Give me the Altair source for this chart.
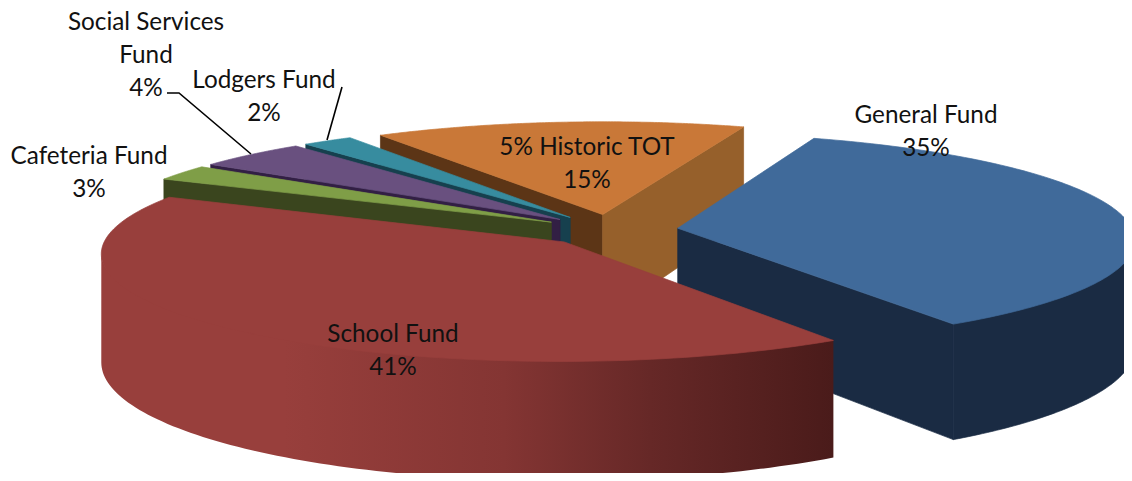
import numpy as np
import pandas as pd
import altair as alt

# --- chart values -------------------------------------------------------
names = ["General Fund", "School Fund", "Cafeteria Fund",
         "Social Services Fund", "Lodgers Fund", "5% Historic TOT"]
# shares; the printed labels round them
shares = [35.3, 41.3, 2.4, 4.4, 2.0, 14.6]
tops = ["#406A9A", "#983F3C", "#7F9E47", "#69507F", "#378C9F", "#C97838"]
darks = ["#1A2B43", "#4F1C1B", "#3A451E", "#321F44", "#16404E", "#5C3516"]
end_faces = ["#1A2B43", "#4F1C1B", "#3A451E", "#321F44", "#16404E", "#96602B"]
draw_order = [5, 4, 3, 2, 0, 1]

label_lines = ["Social Services", "Fund", "4%", "Lodgers Fund", "2%",
               "Cafeteria Fund", "3%", "5% Historic TOT", "15%",
               "General Fund", "35%", "School Fund", "41%"]
label_x = [146, 146, 146, 264, 264, 89, 89, 587, 587, 926, 926, 393, 393]
label_y = [23, 55.5, 88.5, 80.5, 113.5, 156.5, 189.5, 147.5, 180.5, 115.5, 148.5, 334.5, 367.5]

leader_group = [0, 0, 0, 1, 1]
leader_x = [167, 179, 251, 342, 327]
leader_y = [93, 93, 154, 87, 140]

# --- view of the 3-D pie -------------------------------------------------
CX, CY, A, B, K, H0, EXPLODE, START = 610, 230, 455, 105, 0.1, 106, 0.15, 20.0


def project(wx, wy, drop=0.0):
    s = 1.0 / (1.0 - K * wy)
    return CX + A * wx * s, CY + B * wy * s + H0 * s * drop


def rim(t0, t1, ox, oy, drop=0.0):
    ts = np.radians(np.linspace(t0, t1, 120))
    return project(ox + np.sin(ts), oy - np.cos(ts), drop)


def poly(xs, ys):
    xs, ys = np.r_[xs, xs[0]], np.r_[ys, ys[0]]
    return pd.DataFrame({"x": xs, "y": ys, "i": np.arange(len(xs))})


x_enc = alt.X("x:Q", scale=alt.Scale(domain=[8, 1124], nice=False, zero=False), axis=None)
y_enc = alt.Y("y:Q", scale=alt.Scale(domain=[473, 8], nice=False, zero=False), axis=None)


def piece(df, fill):
    edge = fill if isinstance(fill, str) else "#7A3230"
    width = 0.7 if isinstance(fill, str) else 0
    return alt.Chart(df).mark_line(fill=fill, stroke=edge, strokeWidth=width,
                                   interpolate="linear", clip=True).encode(
        x=x_enc, y=y_enc, order=alt.Order("i:Q"))


red_side = {
    "gradient": "linear", "x1": 0, "x2": 1, "y1": 0, "y2": 0,
    "stops": [
        {"offset": 0.0, "color": "#983F3C"},
        {"offset": 0.25, "color": "#983F3C"},
        {"offset": 0.55, "color": "#843533"},
        {"offset": 0.75, "color": "#662827"},
        {"offset": 1.0, "color": "#4A1B1A"},
    ],
}

edges = np.cumsum([0] + shares) * 3.6 + START
layers = []
for n in draw_order:
    t0, t1 = edges[n], edges[n + 1]
    mid = np.radians((t0 + t1) / 2)
    ox, oy = EXPLODE * np.sin(mid), -EXPLODE * np.cos(mid)

    # radial faces that turn towards the viewer
    for t, visible, colour in ((t0, np.sin(np.radians(t0)) < 0, darks[n]),
                               (t1, np.sin(np.radians(t1)) > 0, end_faces[n])):
        if visible:
            r = np.radians(t)
            ex, ey = ox + np.sin(r), oy - np.cos(r)
            p = [project(ox, oy), project(ex, ey), project(ex, ey, 1.0), project(ox, oy, 1.0)]
            layers.append(piece(poly(np.array([q[0] for q in p]), np.array([q[1] for q in p])), colour))

    # outer wall: only between the rim's left and right silhouette points;
    # its upper edge tucks one pixel under the top face so no seam shows
    a0, a1 = max(t0, 60.0), min(t1, 290.0)
    if a1 > a0:
        tx, ty = rim(a0, a1, ox, oy, -0.01)
        bx, by = rim(a0, a1, ox, oy, 1.0)
        lo = int(np.argmax(tx))
        hi = int(np.argmin(tx)) + 1
        if hi - lo > 1:
            tx, ty, bx, by = tx[lo:hi], ty[lo:hi], bx[lo:hi], by[lo:hi]
            fill = red_side if n == 1 else darks[n]
            layers.append(piece(poly(np.r_[tx, bx[::-1]], np.r_[ty, by[::-1]]), fill))

    # top face
    tx, ty = rim(t0, t1, ox, oy)
    ax, ay = project(ox, oy)
    layers.append(piece(poly(np.r_[ax, tx], np.r_[ay, ty]), tops[n]))

leaders = pd.DataFrame({"x": leader_x, "y": leader_y, "g": leader_group, "i": range(len(leader_x))})
layers.append(alt.Chart(leaders).mark_line(color="black", strokeWidth=1.6).encode(
    x=x_enc, y=y_enc, detail="g:N", order=alt.Order("i:Q")))

labels = pd.DataFrame({"x": label_x, "y": label_y, "t": label_lines})
layers.append(alt.Chart(labels).mark_text(font="Lato", fontSize=24.3, color="#111111",
                                          align="center", baseline="middle").encode(
    x=x_enc, y=y_enc, text="t:N"))

chart = alt.layer(*layers).properties(
    width=1116, height=465, padding=0, autosize="none", background="white"
).configure_view(stroke=None)

chart.save("out.html", embed_options={"renderer": "svg", "actions": False})
